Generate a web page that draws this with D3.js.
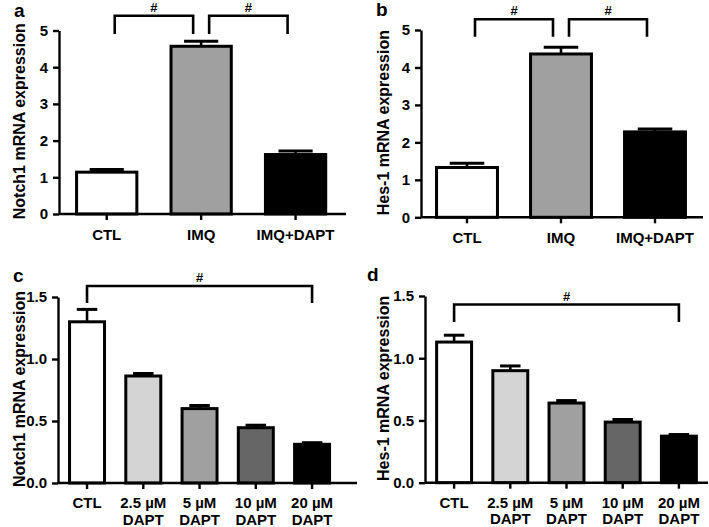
<!DOCTYPE html>
<html>
<head>
<meta charset="utf-8">
<script src="https://cdn.jsdelivr.net/npm/d3@7"></script>
<style>
  body { margin: 0; background: #fff; }
  text { font-family: "Liberation Sans", Arial, sans-serif; font-weight: bold; }
</style>
</head>
<body>
<svg width="709" height="527"></svg>
<script>
// top row: IMQ / DAPT
var groupsTop = ["CTL", "IMQ", "IMQ+DAPT"];
var fillsTop = ["#ffffff", "#a0a0a0", "#000000"];
var notchA = [1.14, 4.57, 1.62];
var notchAErr = [0.07, 0.14, 0.10];
var hesB = [1.33, 4.36, 2.28];
var hesBErr = [0.11, 0.18, 0.08];

// bottom row: DAPT dose
var groupsDose = [["CTL"], ["2.5 µM", "DAPT"], ["5 µM", "DAPT"], ["10 µM", "DAPT"], ["20 µM", "DAPT"]];
var fillsDose = ["#ffffff", "#d4d4d4", "#a0a0a0", "#666666", "#000000"];
var notchC = [1.30, 0.863, 0.60, 0.446, 0.312];
var notchCErr = [0.10, 0.02, 0.025, 0.02, 0.013];
var hesD = [1.13, 0.90, 0.64, 0.487, 0.374];
var hesDErr = [0.055, 0.038, 0.02, 0.021, 0.013];

var ticksTop = [0, 1, 2, 3, 4, 5];
var ticksDose = [0, 0.5, 1.0, 1.5];

var svg = d3.select("svg");

var panels = [
  {letter: "a", lx: 14, ly: 17, ax: 59, axEnd: 346, band: [59.5, 342.8], y0: 214, y1: 30.5, max: 5,
   ticks: ticksTop, fmt: d3.format("d"), cats: groupsTop, vals: notchA, errs: notchAErr, fills: fillsTop,
   label: "Notch1 mRNA expression", labx: 25, inner: 0.33, brackets: [[0, 1, 15.7, 34], [1, 2, 15.7, 34]], shift: 8},
  {letter: "b", lx: 376, ly: 16, ax: 421, axEnd: 703, band: [420, 702], y0: 217.3, y1: 30, max: 5,
   ticks: ticksTop, fmt: d3.format("d"), cats: groupsTop, vals: hesB, errs: hesBErr, fills: fillsTop,
   label: "Hes-1 mRNA expression", labx: 389, inner: 0.32, brackets: [[0, 1, 19.3, 36.7], [1, 2, 19.3, 36.7]], shift: 8},
  {letter: "c", lx: 13, ly: 282, ax: 58, axEnd: 357, band: [58.9, 340.2], y0: 483, y1: 297, max: 1.5,
   ticks: ticksDose, fmt: d3.format(".1f"), cats: groupsDose, vals: notchC, errs: notchCErr, fills: fillsDose,
   label: "Notch1 mRNA expression", labx: 25, inner: 0.325, brackets: [[0, 4, 286, 303]], shift: 0},
  {letter: "d", lx: 367, ly: 281, ax: 425, axEnd: 708, band: [426, 707], y0: 482.7, y1: 296, max: 1.5,
   ticks: ticksDose, fmt: d3.format(".1f"), cats: groupsDose, vals: hesD, errs: hesDErr, fills: fillsDose,
   label: "Hes-1 mRNA expression", labx: 389, inner: 0.325, brackets: [[0, 4, 304.5, 322]], shift: 0}
];

panels.forEach(function(p) {
  var g = svg.append("g");
  var idx = d3.range(p.cats.length);

  var x = d3.scaleBand()
      .domain(idx)
      .range(p.band)
      .paddingInner(p.inner)
      .paddingOuter(p.inner / 2);

  var y = d3.scaleLinear()
      .domain([0, p.max])
      .range([p.y0, p.y1]);

  // bars
  g.selectAll("rect.bar")
    .data(idx)
    .enter().append("rect")
      .attr("x", function(i) { return x(i) + 1.5; })
      .attr("y", function(i) { return y(p.vals[i]); })
      .attr("width", x.bandwidth() - 3)
      .attr("height", function(i) { return y(0) - y(p.vals[i]); })
      .attr("fill", function(i) { return p.fills[i]; })
      .attr("stroke", "#000")
      .attr("stroke-width", 3);

  // error bars, upper half only
  idx.forEach(function(i) {
    var cx = x(i) + x.bandwidth() / 2;
    var cw = x.bandwidth() * 0.27;
    var yt = y(p.vals[i] + p.errs[i]);
    g.append("line")
      .attr("x1", cx).attr("x2", cx)
      .attr("y1", y(p.vals[i])).attr("y2", yt)
      .attr("stroke", "#000").attr("stroke-width", 2.6);
    g.append("line")
      .attr("x1", cx - cw).attr("x2", cx + cw)
      .attr("y1", yt).attr("y2", yt)
      .attr("stroke", "#000").attr("stroke-width", 3);
  });

  // axes
  var yAxis = g.append("g")
      .attr("transform", "translate(" + p.ax + ",0)")
      .call(d3.axisLeft(y).tickValues(p.ticks).tickFormat(p.fmt).tickSize(6).tickSizeOuter(0).tickPadding(5));
  yAxis.selectAll("text").attr("font-size", 15).attr("fill", "#000");

  var xAxis = g.append("g")
      .attr("transform", "translate(0," + p.y0 + ")")
      .call(d3.axisBottom(x).tickSize(6).tickSizeOuter(0).tickFormat(""));
  xAxis.select(".domain").attr("d", "M" + p.ax + ",0H" + p.axEnd);

  g.selectAll(".domain, .tick line")
    .attr("stroke", "#000")
    .attr("stroke-width", 2.4);

  // category labels
  idx.forEach(function(i) {
    var lines = Array.isArray(p.cats[i]) ? p.cats[i] : [p.cats[i]];
    var t = g.append("text")
      .attr("x", x(i) + x.bandwidth() / 2)
      .attr("y", p.y0 + (lines.length > 1 || p.cats.length > 3 ? 25 : 26))
      .attr("text-anchor", "middle")
      .attr("font-size", 15);
    lines.forEach(function(s, k) {
      t.append("tspan")
        .attr("x", x(i) + x.bandwidth() / 2)
        .attr("dy", k == 0 ? 0 : 16.5)
        .text(s);
    });
  });

  // y label
  g.append("text")
    .attr("transform", "translate(" + p.labx + "," + ((p.y0 + p.y1) / 2 - 1) + ") rotate(-90)")
    .attr("text-anchor", "middle")
    .attr("font-size", 16)
    .text(p.label);

  // panel letter
  g.append("text")
    .attr("x", p.lx)
    .attr("y", p.ly)
    .attr("font-size", 19)
    .text(p.letter);

  // significance brackets
  p.brackets.forEach(function(b) {
    var xa = x(b[0]) + x.bandwidth() / 2 + p.shift;
    var xb = x(b[1]) + x.bandwidth() / 2 - p.shift;
    g.append("path")
      .attr("d", "M" + xa + "," + b[3] + "V" + b[2] + "H" + xb + "V" + b[3])
      .attr("fill", "none")
      .attr("stroke", "#000")
      .attr("stroke-width", 2.6);
    g.append("text")
      .attr("x", (xa + xb) / 2)
      .attr("y", b[2] - 4)
      .attr("text-anchor", "middle")
      .attr("font-size", 13)
      .text("#");
  });
});
</script>
</body>
</html>
